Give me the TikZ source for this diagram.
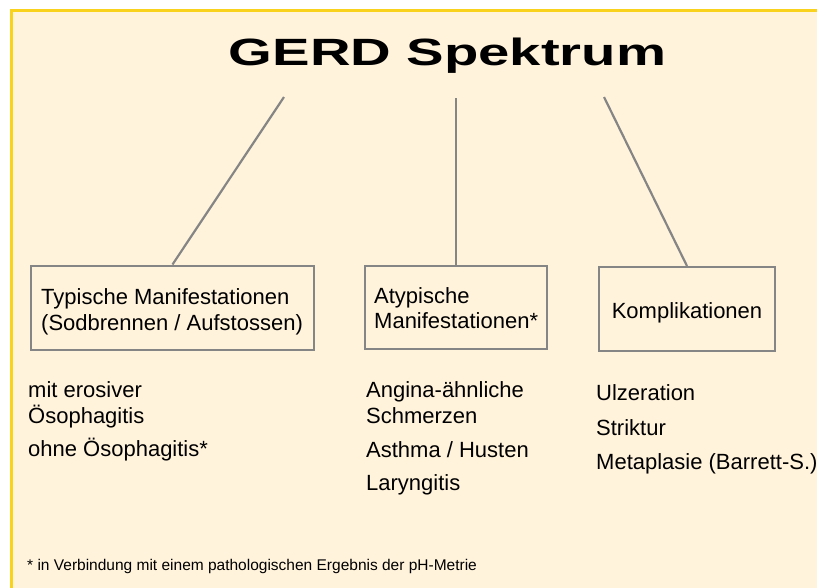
\documentclass[tikz,border=0pt]{standalone}
\usepackage{fontspec}
\usepackage{graphicx}
\setmainfont{Liberation Sans}

\definecolor{cream}{HTML}{FFF3DC}
\definecolor{frameyellow}{HTML}{F8D21C}
\definecolor{linegray}{HTML}{858585}

\tikzset{
  branch/.style={draw=linegray, line width=2.2pt},
  catbox/.style={draw=linegray, line width=2pt, inner sep=0pt},
  boxline/.style={anchor=base west, inner sep=0pt, font=\fontsize{22}{25}\selectfont},
  itemline/.style={anchor=base west, inner sep=0pt, font=\fontsize{22}{25}\selectfont},
}

\begin{document}
\begin{tikzpicture}[x=1pt, y=-1pt]

  \useasboundingbox (0,0) rectangle (817,587);
  \clip (0,0) rectangle (817,587);

  % background panel with yellow frame (runs off right and bottom)
  \filldraw[fill=cream, draw=frameyellow, line width=3pt] (11.5,10.5) rectangle (840,610);

  % title
  \node[anchor=base, inner sep=0pt, font=\fontsize{38}{40}\selectfont\bfseries]
    (title) at (447.5,65) {\scalebox{1.48}[1]{GERD Spektrum}};

  % free upper ends of the three branches
  \coordinate (top1) at (284,97);
  \coordinate (top2) at (456,98);
  \coordinate (top3) at (604,97);

  % category boxes
  \node[catbox, minimum width=283pt, minimum height=84pt] (typ)   at (172.5,307.5) {};
  \node[catbox, minimum width=182pt, minimum height=83pt] (atyp)  at (456,307.5) {};
  \node[catbox, minimum width=176pt, minimum height=84pt] (kompl) at (687,309) {};

  \draw[branch] (top1) -- (typ.north);
  \draw[branch] (top2) -- (atyp.north);
  \draw[branch] (top3) -- (kompl.north);

  % box texts
  \node[boxline] (typA)  at (41,304)  {Typische Manifestationen};
  \node[boxline] (typB)  at (41,330)  {(Sodbrennen / Aufstossen)};
  \node[boxline] (atypA) at (374,303) {Atypische};
  \node[boxline] (atypB) at (374,328) {Manifestationen*};
  \node[boxline, anchor=base] (komplA) at (687,318) {Komplikationen};

  % lists under the boxes
  \foreach \nm/\yy/\txt in {eroA/397/mit erosiver, eroB/423/Ösophagitis, ohne/456/ohne Ösophagitis*} {
    \node[itemline] (\nm) at (28,\yy) {\txt};
  }
  \foreach \nm/\yy/\txt in {angA/397/Angina-ähnliche, angB/423/Schmerzen, asth/457/{Asthma / Husten}, lary/490/Laryngitis} {
    \node[itemline] (\nm) at (366,\yy) {\txt};
  }
  \foreach \nm/\yy/\txt in {ulz/400/Ulzeration, strik/435/Striktur, meta/469/Metaplasie (Barrett-S.)} {
    \node[itemline] (\nm) at (596,\yy) {\txt};
  }

  % footnote
  \node[anchor=base west, inner sep=0pt, font=\fontsize{15.5}{17}\selectfont]
    (note) at (27,570) {* in Verbindung mit einem pathologischen Ergebnis der pH-Metrie};

\end{tikzpicture}
\end{document}
